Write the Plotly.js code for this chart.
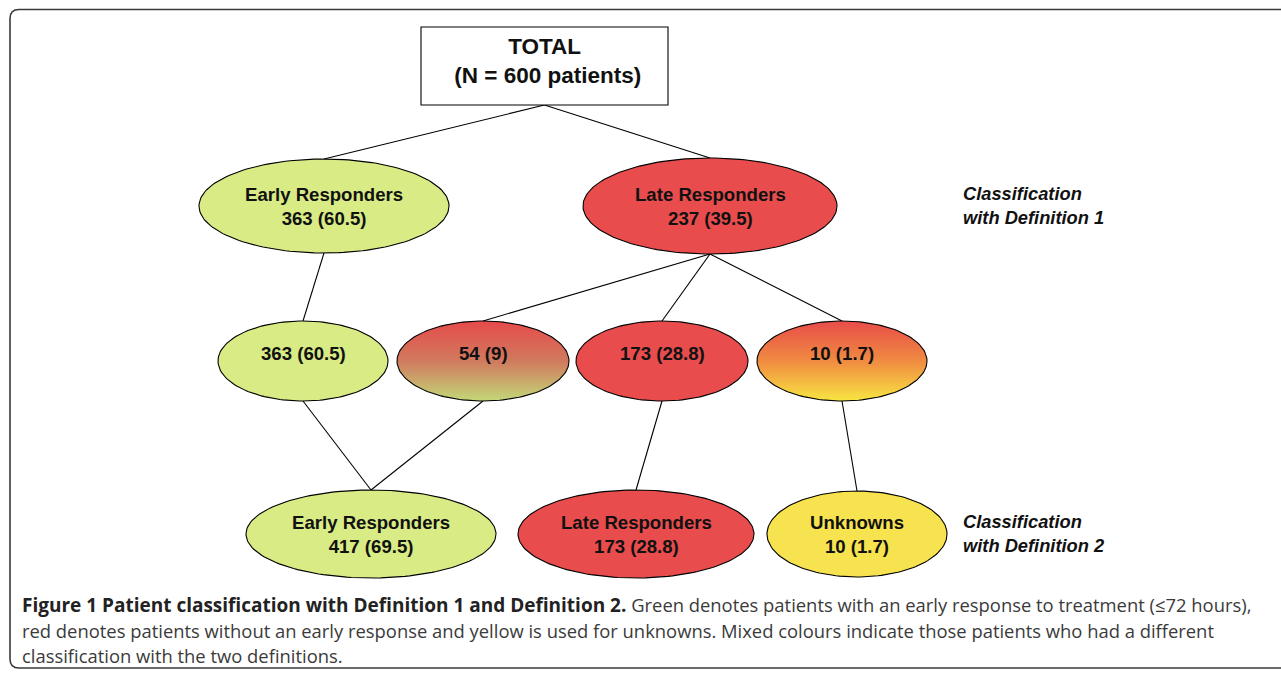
<!DOCTYPE html>
<html>
<head>
<meta charset="utf-8">
<script src="https://cdn.plot.ly/plotly-3.0.1.min.js"></script>
<style>
  html, body { margin: 0; padding: 0; background: #ffffff; }
  #chart { width: 1281px; height: 673px; }
</style>
</head>
<body>
<div id="chart"></div>
<script>
// ---------- DATA ----------
const totalPatients = 600;
const nodeLabels   = ['Early Responders', 'Late Responders', '', '', '', '', 'Early Responders', 'Late Responders', 'Unknowns'];
const nodeCounts   = [363, 237, 363, 54, 173, 10, 417, 173, 10];
const nodePercents = ['60.5', '39.5', '60.5', '9', '28.8', '1.7', '69.5', '28.8', '1.7'];
const nodeClasses  = ['early', 'late', 'early', 'early-late', 'late', 'late-unknown', 'early', 'late', 'unknown'];
// edges: [from, to] ; -1 = TOTAL box
const edgeFrom = [-1, -1, 0, 1, 1, 1, 2, 3, 4, 5];
const edgeTo   = [ 0,  1, 2, 3, 4, 5, 6, 6, 7, 8];
const rowLabels = ['Classification<br>with Definition 1', 'Classification<br>with Definition 2'];
const captionBold = 'Figure 1 Patient classification with Definition 1 and Definition 2.';
const captionLines = [
  ' Green denotes patients with an early response to treatment (\u226472 hours),',
  'red denotes patients without an early response and yellow is used for unknowns. Mixed colours indicate those patients who had a different',
  'classification with the two definitions.'
];

// ---------- LAYOUT GEOMETRY (pixel space) ----------
const nodeCX = [324, 710, 303, 483, 662, 842, 371, 636, 857];
const nodeCY = [206, 206, 361, 361, 361, 361, 534, 534, 534];
const nodeRX = [125, 127, 85, 86, 86, 85, 125, 118, 90];
const nodeRY = [47, 48, 40, 40, 40, 40, 44, 44, 43];
const box = {x0: 421, x1: 668, y0: 27, y1: 105};

const GREEN = '#d8eb84', RED = '#e84c4c', YELLOW = '#f7e34f';
const fillStyles = {
  'early':        {color: GREEN},
  'late':         {color: RED},
  'unknown':      {color: YELLOW},
  'early-late':   {grad: [[0, '#e64b4b'], [0.5, '#d07a5e'], [1, '#c3d878']]},
  'late-unknown': {grad: [[0, '#e84c4a'], [0.5, '#f08b41'], [1, '#f8e542']]}
};

const traces = [];
for (let i = 0; i < nodeCX.length; i++) {
  const xs = [], ys = [];
  const N = 160;
  for (let k = 0; k <= N; k++) {
    const t = 2 * Math.PI * k / N;
    xs.push(nodeCX[i] + nodeRX[i] * Math.cos(t));
    ys.push(nodeCY[i] + nodeRY[i] * Math.sin(t));
  }
  const st = fillStyles[nodeClasses[i]];
  const tr = {
    type: 'scatter', mode: 'lines', x: xs, y: ys, fill: 'toself',
    line: {color: '#000000', width: 1.1}, hoverinfo: 'skip', showlegend: false
  };
  if (st.grad) {
    tr.fillcolor = st.grad[1][1];
    tr.fillgradient = {type: 'vertical', colorscale: st.grad,
      start: nodeCY[i] - nodeRY[i], stop: nodeCY[i] + nodeRY[i]};
  } else {
    tr.fillcolor = st.color;
  }
  traces.push(tr);
}

// ---------- SHAPES ----------
const shapes = [];
shapes.push({type: 'path', layer: 'below',
  path: 'M 1295,9.5 L 19,9.5 Q 10,9.5 10,18.5 L 10,659 Q 10,668 19,668 L 1295,668',
  line: {color: '#3a3a3a', width: 1.6}});
function topOf(i) { return [nodeCX[i], nodeCY[i] - nodeRY[i]]; }
function botOf(i) { return [nodeCX[i], nodeCY[i] + nodeRY[i]]; }
for (let e = 0; e < edgeFrom.length; e++) {
  const a = edgeFrom[e] < 0 ? [(box.x0 + box.x1) / 2, box.y1] : botOf(edgeFrom[e]);
  const b = topOf(edgeTo[e]);
  shapes.push({type: 'line', layer: 'below', x0: a[0], y0: a[1], x1: b[0], y1: b[1],
    line: {color: '#000000', width: 1.1}});
}
shapes.push({type: 'rect', layer: 'above', x0: box.x0, x1: box.x1, y0: box.y0, y1: box.y1,
  fillcolor: '#ffffff', line: {color: '#000000', width: 1.1}});

// ---------- ANNOTATIONS ----------
const fam = 'Liberation Sans, Arial, Helvetica, sans-serif';
const nodeFont = {family: fam, size: 18.6, color: '#111111'};
const ann = [];
ann.push({x: 544, y: 61, xref: 'x', yref: 'y', showarrow: false,
  text: '<b>TOTAL<br> (N = ' + totalPatients + ' patients)</b>',
  font: {family: fam, size: 22.5, color: '#111111'}, align: 'center'});
for (let i = 0; i < nodeCX.length; i++) {
  const line2 = nodeCounts[i] + ' (' + nodePercents[i] + ')';
  const txt = nodeLabels[i] ? nodeLabels[i] + '<br>' + line2 : line2;
  ann.push({x: nodeCX[i], y: nodeLabels[i] ? nodeCY[i] : nodeCY[i] - 8, xref: 'x', yref: 'y',
    showarrow: false, text: '<b>' + txt + '</b>', font: nodeFont, align: 'center'});
}
const labFont = {family: fam, size: 18.3, color: '#111111'};
ann.push({x: 961, y: 205, xref: 'x', yref: 'y', xanchor: 'left', showarrow: false, align: 'left',
  text: '<b><i>' + rowLabels[0] + '</i></b>', font: labFont});
ann.push({x: 961, y: 533, xref: 'x', yref: 'y', xanchor: 'left', showarrow: false, align: 'left',
  text: '<b><i>' + rowLabels[1] + '</i></b>', font: labFont});
const capFont = {family: 'Open Sans, Lato, sans-serif', size: 18.4, color: '#3a3a3a'};
const capY = [605, 630, 655];
for (let j = 0; j < captionLines.length; j++) {
  const t = j === 0
    ? '<b><span style="color:#222222;font-size:19px">' + captionBold + '</span></b>' + captionLines[j]
    : captionLines[j];
  ann.push({x: 20, y: capY[j], xref: 'x', yref: 'y', xanchor: 'left', yanchor: 'middle',
    showarrow: false, align: 'left', text: t, font: capFont});
}

const layout = {
  width: 1281, height: 673,
  margin: {l: 0, r: 0, t: 0, b: 0},
  paper_bgcolor: '#ffffff', plot_bgcolor: '#ffffff',
  xaxis: {range: [0, 1281], visible: false, fixedrange: true},
  yaxis: {range: [673, 0], visible: false, fixedrange: true},
  shapes: shapes, annotations: ann, showlegend: false
};
Plotly.newPlot('chart', traces, layout, {staticPlot: true, displayModeBar: false});
</script>
</body>
</html>
